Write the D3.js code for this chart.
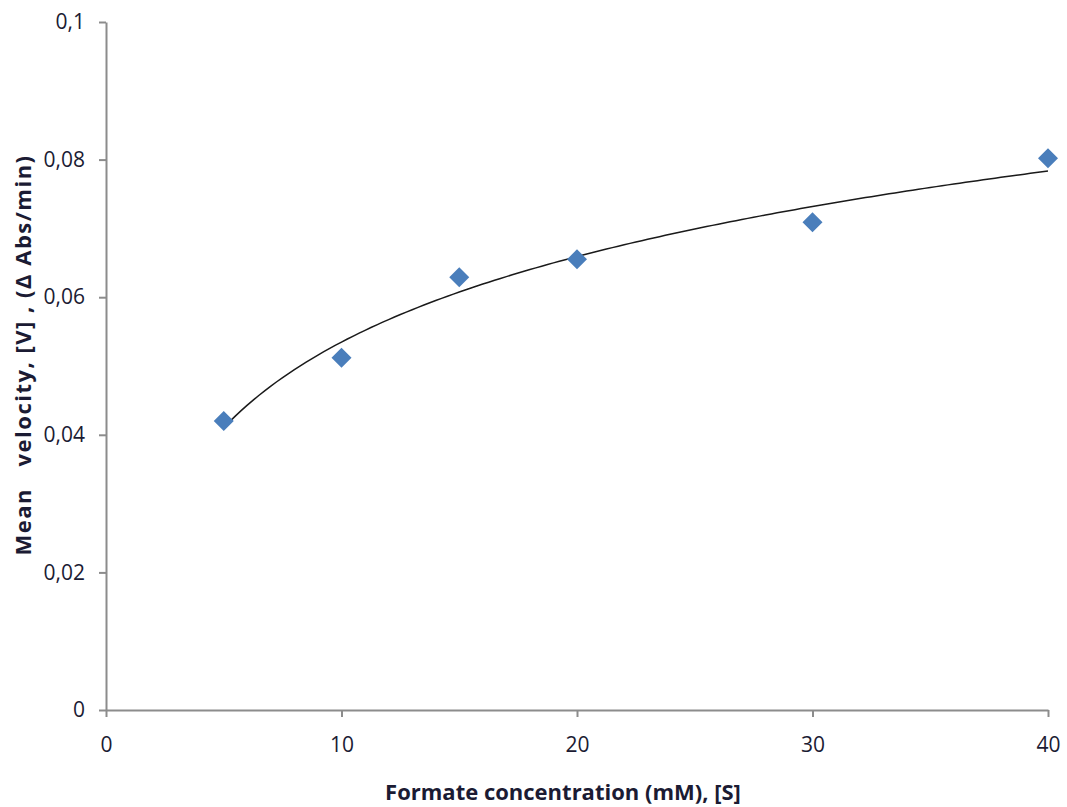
<!DOCTYPE html>
<html>
<head>
<meta charset="utf-8">
<script src="https://cdn.jsdelivr.net/npm/d3@7"></script>
<style>
  body { margin: 0; background: #fff; }
  svg text { font-family: "Open Sans", "Noto Sans", sans-serif; fill: #1b1b33; }
  .axis path, .axis line { stroke: #8c8c8c; stroke-width: 2; }
</style>
</head>
<body>
<svg id="chart" width="1067" height="807"></svg>
<script>
// formate concentration (mM) and mean velocity (dAbs/min)
const concentrations = [5, 10, 15, 20, 30, 40];
const velocities = [0.042, 0.0512, 0.0629, 0.0655, 0.0709, 0.0802];
const xTicks = [0, 10, 20, 30, 40];
const yTicks = [0, 0.02, 0.04, 0.06, 0.08, 0.1];
const yTickLabels = ['0', '0,02', '0,04', '0,06', '0,08', '0,1'];

const svg = d3.select('svg#chart');
const margin = { top: 22, right: 19, bottom: 97, left: 106 };
const width = +svg.attr('width') - margin.left - margin.right;
const height = +svg.attr('height') - margin.top - margin.bottom;

const g = svg.append('g').attr('transform', `translate(${margin.left},${margin.top})`);

const x = d3.scaleLinear().domain([0, 40]).range([0, width]);
const y = d3.scaleLinear().domain([0, 0.1]).range([height, 0]);

// x axis
const xAxis = g.append('g')
    .attr('class', 'axis')
    .attr('transform', `translate(0,${height})`)
    .call(d3.axisBottom(x).tickValues(xTicks).tickSize(7).tickSizeOuter(0).tickPadding(20));
xAxis.selectAll('text').attr('font-size', 21);

// y axis
const yAxis = g.append('g')
    .attr('class', 'axis')
    .call(d3.axisLeft(y).tickValues(yTicks).tickSize(7).tickSizeOuter(0).tickPadding(14)
      .tickFormat((d, i) => yTickLabels[i]));
yAxis.selectAll('text').attr('font-size', 21);

// logarithmic trend line, least squares on ln(x)
const lx = concentrations.map(Math.log);
const mx = d3.mean(lx), my = d3.mean(velocities);
const slope = d3.sum(lx, (v, i) => (v - mx) * (velocities[i] - my)) / d3.sum(lx, v => (v - mx) ** 2);
const intercept = my - slope * mx;
const trendXs = d3.range(concentrations[0], concentrations[concentrations.length - 1] + 0.01, 0.25);

g.append('path')
    .datum(trendXs)
    .attr('fill', 'none')
    .attr('stroke', '#1a1a1a')
    .attr('stroke-width', 1.5)
    .attr('d', d3.line().x(d => x(d)).y(d => y(intercept + slope * Math.log(d))));

// markers
g.selectAll('path.pt')
  .data(concentrations)
  .join('path')
    .attr('class', 'pt')
    .attr('transform', (d, i) => `translate(${x(d)},${y(velocities[i])})`)
    .attr('d', 'M0,-10L10,0L0,10L-10,0Z')
    .attr('fill', '#4a7ebb');

// axis titles
svg.append('text')
    .attr('x', 563)
    .attr('y', 800)
    .attr('text-anchor', 'middle')
    .attr('font-size', 22)
    .attr('font-weight', 'bold')
    .text('Formate concentration (mM), [S]');

svg.append('text')
    .attr('transform', 'translate(31,355) rotate(-90)')
    .attr('text-anchor', 'middle')
    .attr('font-size', 22)
    .attr('font-weight', 'bold')
    .attr('letter-spacing', 1.5)
    .attr('xml:space', 'preserve')
    .style('white-space', 'pre')
    .text('Mean   velocity, [V] , (\u0394 Abs/min)');
</script>
</body>
</html>
